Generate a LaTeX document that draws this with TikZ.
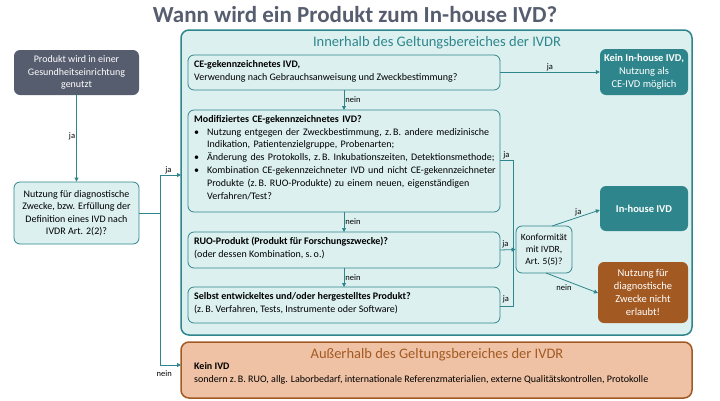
\documentclass[tikz,border=0pt]{standalone}
\usepackage{fontspec}
\setmainfont{Carlito}
\usetikzlibrary{arrows.meta}
\definecolor{teal1}{HTML}{2E868C}
\definecolor{lcyan}{HTML}{DCF0F0}
\definecolor{dgray}{HTML}{555D6E}
\definecolor{brn}{HTML}{A35A22}
\definecolor{peach}{HTML}{EFC2A5}
\definecolor{ttl}{HTML}{555D6E}
\tikzset{
 box/.style={draw=teal1,fill=lcyan,rounded corners=6pt,line width=0.8pt},
 dark/.style={fill=dgray,rounded corners=6pt,text=white,align=center,font=\fontsize{10}{12.5}\selectfont},
 tealbox/.style={fill=teal1,rounded corners=6pt,text=white,align=center,font=\bfseries\fontsize{10.5}{13}\selectfont},
 brnbox/.style={fill=brn,rounded corners=6pt,text=white,align=center,font=\fontsize{10.5}{13}\selectfont},
 arr/.style={draw=teal1,line width=0.8pt,-{Triangle[length=4pt,width=4pt]}},
 ln/.style={draw=teal1,line width=0.8pt},
 lbl/.style={font=\fontsize{8.5}{10}\selectfont,inner sep=1pt},
 txt/.style={anchor=north west,align=left,font=\fontsize{10}{12.8}\selectfont,inner sep=0pt}
}
\newcommand{\bul}{\par\noindent\llap{•\hspace{8pt}}}
\begin{document}
\begin{tikzpicture}[x=1pt,y=-1pt]
\useasboundingbox (0,0) rectangle (720,400);
\node (title) at (355,15) {\textcolor{ttl}{\bfseries\fontsize{23}{26}\selectfont Wann wird ein Produkt zum In-house IVD?}};
% regions
\draw[draw=teal1,fill=lcyan,rounded corners=8pt,line width=1.5pt] (181,30) rectangle (692,335);
\node (intitle) at (437,43) {\textcolor{teal1}{\fontsize{14.5}{17}\selectfont Innerhalb des Geltungsbereiches der IVDR}};
\draw[draw=brn,fill=peach,rounded corners=8pt,line width=1.5pt] (181,342) rectangle (692,398);
\node (outtitle) at (437,355) {\textcolor{brn}{\fontsize{14.5}{17}\selectfont Außerhalb des Geltungsbereiches der IVDR}};
\node[txt] (kein) at (194,362) {\textbf{Kein IVD}\\sondern z.\,B. RUO, allg. Laborbedarf, internationale Referenzmaterialien, externe Qualitätskontrollen, Protokolle};
% left boxes
\node[dark,minimum width=125pt,minimum height=45pt] (start) at (76.5,72.5) {Produkt wird in einer\\Gesundheitseinrichtung\\genutzt};
\node[box,minimum width=125pt,minimum height=62pt,align=center,font=\fontsize{10}{12.5}\selectfont] (def) at (76.5,213) {Nutzung für diagnostische\\Zwecke, bzw. Erfüllung der\\Definition eines IVD nach\\IVDR Art. 2(2)?};
% inner boxes
\draw[box] (188,55) rectangle (500,90);
\node[txt] (cet) at (194,60) {\textbf{CE-gekennzeichnetes IVD,}\\Verwendung nach Gebrauchsanweisung und Zweckbestimmung?};
\draw[box] (188,110) rectangle (500,212);
\node[txt,text width=302pt] (modt) at (194,115) {\parindent=0pt\hyphenpenalty=10000\textbf{Modifiziertes CE-gekennzeichnetes IVD?}\par
\leftskip=13pt
\bul Nutzung entgegen der Zweckbestimmung, z.\,B. andere medizinische Indikation, Patientenzielgruppe, Probenarten;
\bul Änderung des Protokolls, z.\,B. Inkubationszeiten, Detektionsmethode;
\bul Kombination CE-gekennzeichneter IVD und nicht CE-gekennzeichneter Produkte (z.\,B. RUO-Produkte) zu einem neuen, eigenständigen Verfahren/Test?\par};
\draw[box] (188,232) rectangle (500,268);
\node[txt] (ruot) at (194,237) {\textbf{RUO-Produkt (Produkt für Forschungszwecke)?}\\(oder dessen Kombination, s.\,o.)};
\draw[box] (188,287) rectangle (500,323);
\node[txt] (selt) at (194,292) {\textbf{Selbst entwickeltes und/oder hergestelltes Produkt?}\\(z.\,B. Verfahren, Tests, Instrumente oder Software)};
\node[box,minimum width=56pt,minimum height=47pt,align=center,font=\fontsize{9.5}{12}\selectfont,inner sep=1pt] (konf) at (544,249.5) {Konformität\\mit IVDR,\\Art. 5(5)?};
\node[tealbox,minimum width=88pt,minimum height=46pt] (kin) at (644,72) {Kein In-house IVD,\\{\mdseries Nutzung als}\\{\mdseries CE-IVD möglich}};
\node[tealbox,minimum width=88pt,minimum height=45pt] (inh) at (644,208.5) {In-house IVD};
\node[brnbox,minimum width=90pt,minimum height=61pt] (nerl) at (643,292.5) {Nutzung für\\diagnostische\\Zwecke nicht\\erlaubt!};
% connectors
\draw[arr] (start.south) -- node[lbl,left,pos=0.48]{ja} (def.north);
\coordinate (j1) at (160,213);
\draw[ln] (def.east) -- (j1);
\draw[arr] (j1) -- (160,175) -- node[lbl,above,pos=0.4]{ja} (181,175);
\draw[arr] (j1) -- (160,365) -- node[lbl,below,pos=0.2,yshift=-4pt]{nein} (181,365);
\draw[arr] (500,72) -- node[lbl,above]{ja} (kin.west |- 0,72);
\draw[arr] (344,90) -- node[lbl,right]{nein} (344,110);
\draw[arr] (344,212) -- node[lbl,right]{nein} (344,232);
\draw[arr] (344,268) -- node[lbl,right]{nein} (344,287);
\draw[ln] (500,160) -- node[lbl,above,pos=0.5]{ja} (513,160) -- (513,306) -- (500,306);
\node[lbl] (j3) at (506,299) {ja};
\draw[arr] (500,250) -- node[lbl,above,pos=0.35]{ja} (konf.west);
\draw[arr] (552,226) -- node[lbl,above,pos=0.55]{ja} (kin.south west |- 0,210) ;
\draw[arr] (546,273) -- node[lbl,below,pos=0.5,xshift=-8pt]{nein} (598,293);
\end{tikzpicture}
\end{document}
